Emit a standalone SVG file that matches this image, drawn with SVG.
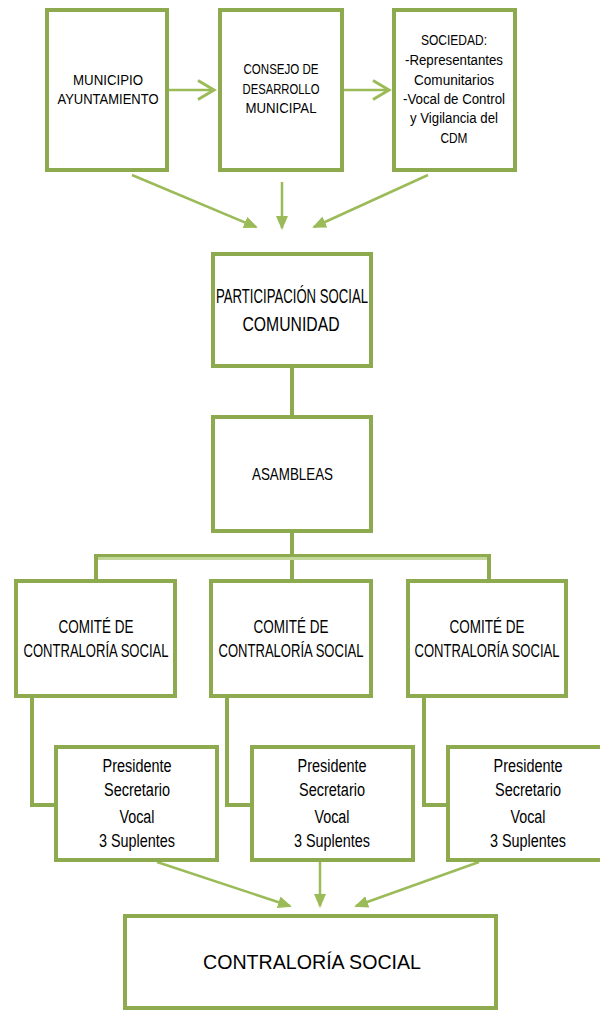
<svg xmlns="http://www.w3.org/2000/svg" width="600" height="1012" viewBox="0 0 600 1012">
<style>
.box{fill:#fff;stroke:#8eaa4f;stroke-width:4}
.t{font-family:"Liberation Sans",Arial,sans-serif;fill:#000;text-anchor:middle}
.link{fill:none;stroke:#8eaa4f;stroke-width:4}
.arr{fill:none;stroke:#9bbb59;stroke-width:2.5}
</style>
<defs>
<marker id="tri" viewBox="0 0 14 12" refX="12" refY="6" markerWidth="14" markerHeight="12" markerUnits="userSpaceOnUse" orient="auto">
<path d="M0,0 L14,6 L0,12 z" fill="#9bbb59"/>
</marker>
<marker id="chev" viewBox="0 0 20 22" refX="18" refY="11" markerWidth="20" markerHeight="22" markerUnits="userSpaceOnUse" orient="auto" overflow="visible">
<path d="M2,1.5 L18,11 L2,20.5" fill="none" stroke="#9bbb59" stroke-width="3"/>
</marker>
</defs>
<rect width="600" height="1012" fill="#fff"/>

<g id="connectors">
<line class="arr" x1="167" y1="90" x2="214" y2="90" marker-end="url(#chev)"/>
<line class="arr" x1="342" y1="90" x2="389" y2="90" marker-end="url(#chev)"/>
<line class="arr" x1="132" y1="175" x2="256" y2="227" marker-end="url(#tri)"/>
<line class="arr" x1="282" y1="182" x2="282" y2="228" marker-end="url(#tri)"/>
<line class="arr" x1="428" y1="175" x2="314" y2="227" marker-end="url(#tri)"/>
<line class="link" x1="292" y1="368" x2="292" y2="416"/>
<line class="link" x1="292" y1="532" x2="292" y2="580" stroke-width="3"/>
<line x1="96" y1="557" x2="489" y2="557" stroke="#c3d69b" stroke-width="6"/>
<line x1="96" y1="555.5" x2="489" y2="555.5" stroke="#8eaa4f" stroke-width="3"/>
<line class="link" x1="96" y1="554" x2="96" y2="580" stroke-width="3"/>
<line class="link" x1="489" y1="554" x2="489" y2="580" stroke-width="3"/>
<path class="link" d="M32,697 V805 H56" stroke-width="5"/>
<path class="link" d="M227,697 V805 H252" stroke-width="5"/>
<path class="link" d="M424,697 V805 H448" stroke-width="5"/>
<line class="arr" x1="157" y1="862" x2="290" y2="906" marker-end="url(#tri)"/>
<line class="arr" x1="320" y1="862" x2="320" y2="906" marker-end="url(#tri)"/>
<line class="arr" x1="479" y1="862" x2="356" y2="906" marker-end="url(#tri)"/>
</g>

<g id="municipio">
<rect class="box" x="47" y="10" width="120" height="160"/>
<text class="t" font-size="15" x="108" y="85" textLength="70" lengthAdjust="spacingAndGlyphs">MUNICIPIO</text>
<text class="t" font-size="15" x="108" y="104" textLength="101" lengthAdjust="spacingAndGlyphs">AYUNTAMIENTO</text>
</g>

<g id="consejo">
<rect class="box" x="220" y="10" width="122" height="160"/>
<text class="t" font-size="15" x="281" y="74" textLength="75" lengthAdjust="spacingAndGlyphs">CONSEJO DE</text>
<text class="t" font-size="15" x="281" y="94" textLength="77" lengthAdjust="spacingAndGlyphs">DESARROLLO</text>
<text class="t" font-size="15" x="281" y="113" textLength="71" lengthAdjust="spacingAndGlyphs">MUNICIPAL</text>
</g>

<g id="sociedad">
<rect class="box" x="394" y="10" width="121" height="160"/>
<text class="t" font-size="14" x="454" y="45" textLength="66" lengthAdjust="spacingAndGlyphs">SOCIEDAD:</text>
<text class="t" font-size="14" x="454" y="65" textLength="98" lengthAdjust="spacingAndGlyphs">-Representantes</text>
<text class="t" font-size="14" x="454" y="85" textLength="80" lengthAdjust="spacingAndGlyphs">Comunitarios</text>
<text class="t" font-size="14" x="454" y="104" textLength="102" lengthAdjust="spacingAndGlyphs">-Vocal de Control</text>
<text class="t" font-size="14" x="454" y="123" textLength="88" lengthAdjust="spacingAndGlyphs">y Vigilancia del</text>
<text class="t" font-size="14" x="454" y="143" textLength="27" lengthAdjust="spacingAndGlyphs">CDM</text>
</g>

<g id="participacion">
<rect class="box" x="213" y="254" width="158" height="112"/>
<text class="t" font-size="21" x="292" y="303" textLength="152" lengthAdjust="spacingAndGlyphs">PARTICIPACIÓN SOCIAL</text>
<text class="t" font-size="21" x="291" y="331" textLength="97" lengthAdjust="spacingAndGlyphs">COMUNIDAD</text>
</g>

<g id="asambleas">
<rect class="box" x="213" y="417" width="158" height="114"/>
<text class="t" font-size="16.5" x="292.5" y="480" textLength="81" lengthAdjust="spacingAndGlyphs">ASAMBLEAS</text>
</g>

<g id="comite1">
<rect class="box" x="16" y="581" width="159" height="115"/>
<text class="t" font-size="18.5" x="96" y="633" textLength="75" lengthAdjust="spacingAndGlyphs">COMITÉ DE</text>
<text class="t" font-size="18.5" x="96" y="657" textLength="145" lengthAdjust="spacingAndGlyphs">CONTRALORÍA SOCIAL</text>
</g>
<g id="comite2">
<rect class="box" x="211" y="581" width="160" height="115"/>
<text class="t" font-size="18.5" x="291" y="633" textLength="75" lengthAdjust="spacingAndGlyphs">COMITÉ DE</text>
<text class="t" font-size="18.5" x="291" y="657" textLength="145" lengthAdjust="spacingAndGlyphs">CONTRALORÍA SOCIAL</text>
</g>
<g id="comite3">
<rect class="box" x="408" y="581" width="158" height="115"/>
<text class="t" font-size="18.5" x="487" y="633" textLength="75" lengthAdjust="spacingAndGlyphs">COMITÉ DE</text>
<text class="t" font-size="18.5" x="487" y="657" textLength="145" lengthAdjust="spacingAndGlyphs">CONTRALORÍA SOCIAL</text>
</g>

<g id="miembros1">
<rect class="box" x="56" y="747" width="161" height="113"/>
<text class="t" font-size="18" x="137" y="772" textLength="69" lengthAdjust="spacingAndGlyphs">Presidente</text>
<text class="t" font-size="18" x="137" y="796" textLength="66" lengthAdjust="spacingAndGlyphs">Secretario</text>
<text class="t" font-size="18" x="137" y="823" textLength="35" lengthAdjust="spacingAndGlyphs">Vocal</text>
<text class="t" font-size="18" x="137" y="847" textLength="76" lengthAdjust="spacingAndGlyphs">3 Suplentes</text>
</g>
<g id="miembros2">
<rect class="box" x="252" y="747" width="161" height="113"/>
<text class="t" font-size="18" x="332" y="772" textLength="69" lengthAdjust="spacingAndGlyphs">Presidente</text>
<text class="t" font-size="18" x="332" y="796" textLength="66" lengthAdjust="spacingAndGlyphs">Secretario</text>
<text class="t" font-size="18" x="332" y="823" textLength="35" lengthAdjust="spacingAndGlyphs">Vocal</text>
<text class="t" font-size="18" x="332" y="847" textLength="76" lengthAdjust="spacingAndGlyphs">3 Suplentes</text>
</g>
<g id="miembros3">
<rect class="box" x="448" y="747" width="161" height="113"/>
<text class="t" font-size="18" x="528" y="772" textLength="69" lengthAdjust="spacingAndGlyphs">Presidente</text>
<text class="t" font-size="18" x="528" y="796" textLength="66" lengthAdjust="spacingAndGlyphs">Secretario</text>
<text class="t" font-size="18" x="528" y="823" textLength="35" lengthAdjust="spacingAndGlyphs">Vocal</text>
<text class="t" font-size="18" x="528" y="847" textLength="76" lengthAdjust="spacingAndGlyphs">3 Suplentes</text>
</g>

<g id="contraloria">
<rect class="box" x="125" y="916" width="371" height="92"/>
<text class="t" font-size="20" x="312" y="969" textLength="218" lengthAdjust="spacingAndGlyphs">CONTRALORÍA SOCIAL</text>
</g>
</svg>
